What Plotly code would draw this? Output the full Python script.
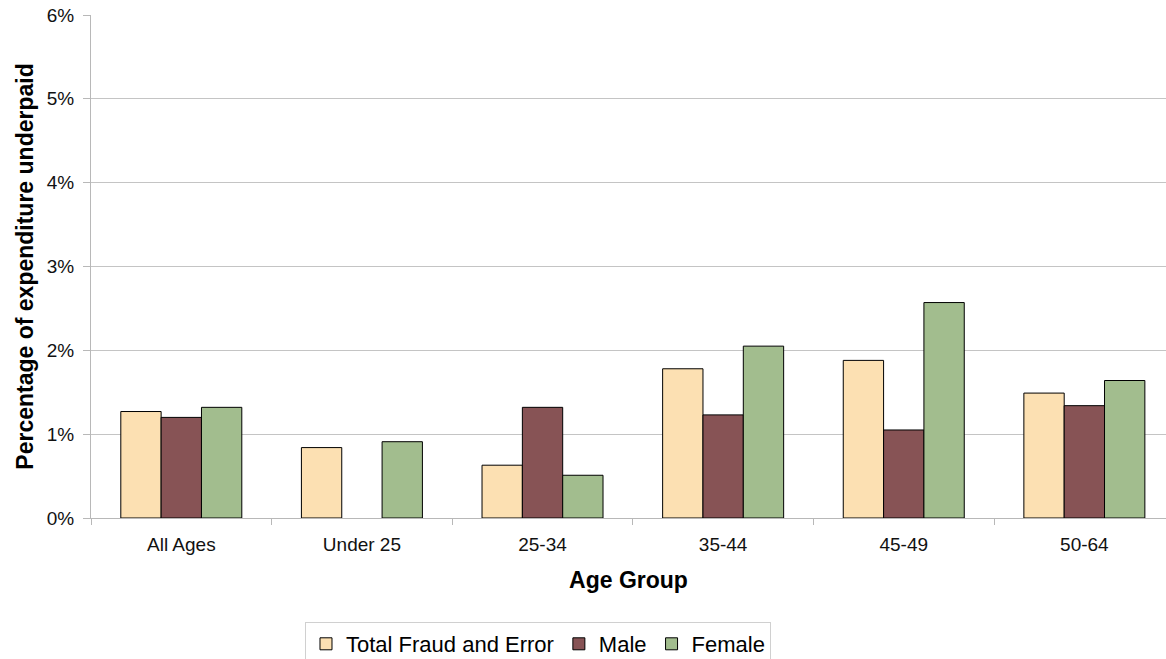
import plotly.graph_objects as go

categories = ["All Ages", "Under 25", "25-34", "35-44", "45-49", "50-64"]
total_vals = [0.0127, 0.0084, 0.0063, 0.0178, 0.0188, 0.0149]
male_vals = [0.0120, None, 0.0132, 0.0123, 0.0105, 0.0134]
female_vals = [0.0132, 0.0091, 0.0051, 0.0205, 0.0257, 0.0164]
series_names = ["Total Fraud and Error", "Male", "Female"]
colors = ["#FCE0B2", "#875355", "#A2BD8E"]

FONT = "Liberation Sans, Arial, sans-serif"

fig = go.Figure()
for name, vals, col in zip(series_names, [total_vals, male_vals, female_vals], colors):
    fig.add_trace(go.Bar(
        x=categories, y=vals, name=name,
        marker=dict(color=col, line=dict(color="#000000", width=1)),
    ))

fig.update_layout(
    width=1166, height=659,
    margin=dict(l=91, r=0, t=15, b=141),
    paper_bgcolor="white", plot_bgcolor="white",
    barmode="group", bargap=0.33, bargroupgap=0,
    font=dict(family=FONT, color="#000000"),
    showlegend=True,
    legend=dict(
        orientation="h", xref="container", x=0.4614, xanchor="center",
        yref="container", y=(659 - 622) / 659, yanchor="top",
        font=dict(size=22, family=FONT, color="#000000"),
        bordercolor="#D0D0D0", borderwidth=1, bgcolor="white",
        traceorder="normal", itemwidth=30,
    ),
    xaxis=dict(
        type="category", range=[-0.5, 5.452],
        showline=True, linecolor="#B8B8B8", linewidth=1,
        ticks="outside", tickson="boundaries", ticklen=6, tickcolor="#B8B8B8",
        tickfont=dict(size=19, family=FONT, color="#111111"),
        ticklabelstandoff=9,
        title=dict(text="<b>Age Group</b>", font=dict(size=23, family=FONT), standoff=18),
        showgrid=False, automargin=False,
    ),
    yaxis=dict(
        range=[0, 0.06], dtick=0.01, tickformat=".0%",
        showline=True, linecolor="#B8B8B8", linewidth=1,
        ticks="outside", ticklen=7, tickcolor="#B8B8B8",
        tickfont=dict(size=19, family=FONT, color="#111111"),
        ticklabelstandoff=5,
        showgrid=True, gridcolor="#C4C4C4", gridwidth=1,
        zeroline=False,
        title=dict(text="<b>Percentage of expenditure underpaid</b>",
                   font=dict(size=23, family=FONT), standoff=6),
        automargin=False,
    ),
)

fig.write_html(
    "out.html",
    config={"displayModeBar": False},
    post_script="document.body.style.margin='0';document.body.style.overflow='hidden';",
)
